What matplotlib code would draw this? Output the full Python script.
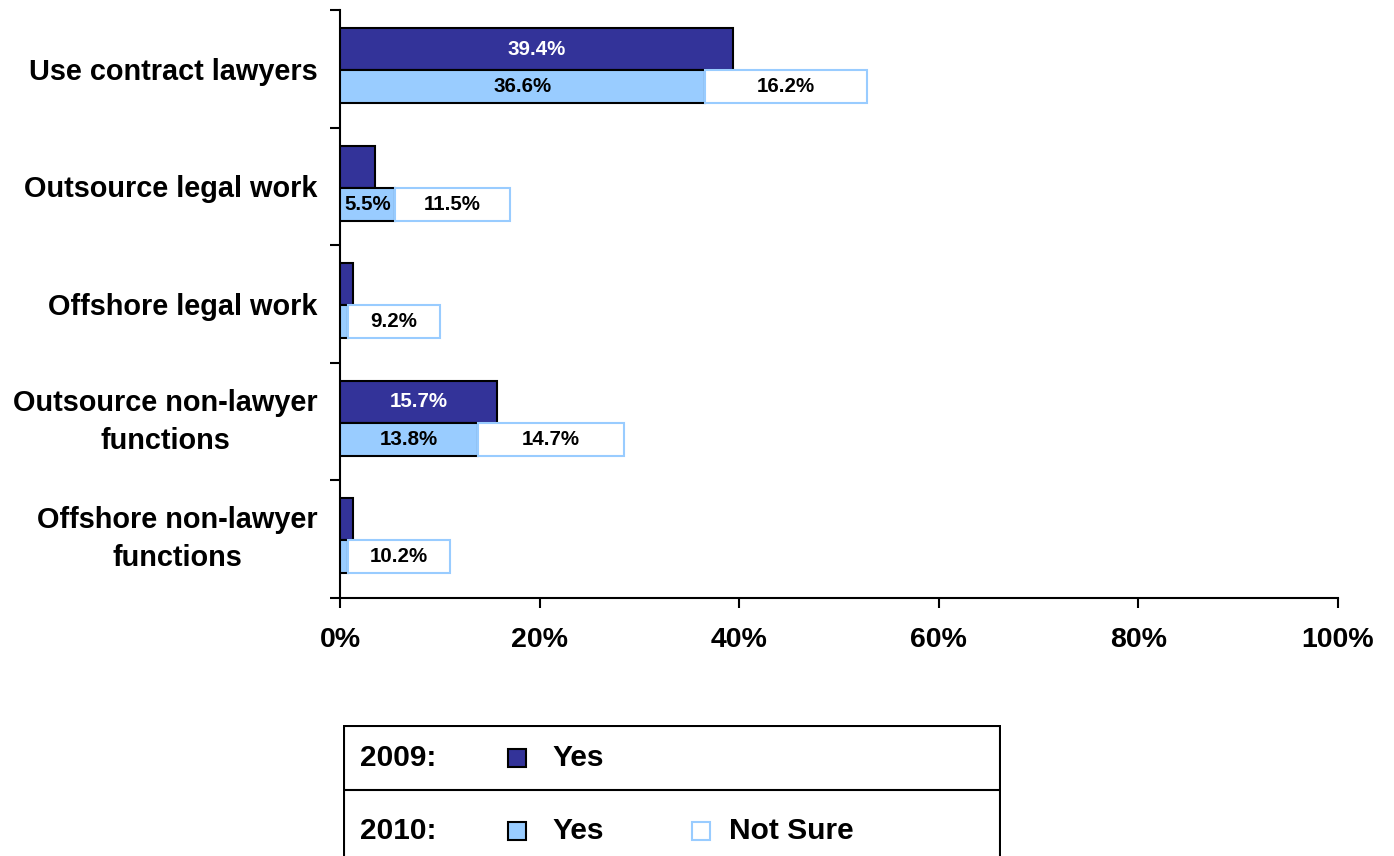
import matplotlib
matplotlib.use("Agg")
import matplotlib.pyplot as plt
from matplotlib.patches import Rectangle
from matplotlib.lines import Line2D
import numpy as np

plt.rcParams['font.family'] = ['Liberation Sans', 'DejaVu Sans']
plt.rcParams['font.weight'] = 'bold'

categories = ["Use contract lawyers", "Outsource legal work", "Offshore legal work",
              "Outsource non-lawyer\nfunctions", "Offshore non-lawyer\nfunctions"]
yes_2009 = [39.4, 3.5, 1.3, 15.7, 1.3]
yes_2010 = [36.6, 5.5, 0.8, 13.8, 0.8]
notsure_2010 = [16.2, 11.5, 9.2, 14.7, 10.2]
show_2009 = [True, False, False, True, False]
show_2010 = [True, True, False, True, False]
xticks = [0, 20, 40, 60, 80, 100]
xticklabels = ["0%", "20%", "40%", "60%", "80%", "100%"]

navy = "#333399"
light = "#99CCFF"

fig = plt.figure(figsize=(13.94, 8.56), dpi=100)
ax = fig.add_axes([340/1394, 1-598/856, 998/1394, 588/856])

y = np.arange(len(categories))
h09, c09 = 0.357, -0.168
h10, c10 = 0.28, 0.15

ax.barh(y + c09, yes_2009, height=h09, color=navy, edgecolor="black", linewidth=1.5, zorder=3)
ax.barh(y + c10, yes_2010, height=h10, color=light, edgecolor="black", linewidth=1.5, zorder=3)
ax.barh(y + c10, notsure_2010, left=yes_2010, height=h10, color="white", edgecolor=light,
        linewidth=1.5, zorder=3)

for i in range(len(categories)):
    if show_2009[i]:
        ax.text(yes_2009[i] / 2, y[i] + c09, f"{yes_2009[i]:.1f}%", ha="center", va="center",
                color="white", fontsize=14.8, fontweight="bold", zorder=5)
    if show_2010[i]:
        ax.text(yes_2010[i] / 2, y[i] + c10, f"{yes_2010[i]:.1f}%", ha="center", va="center",
                color="black", fontsize=14.8, fontweight="bold", zorder=5)
    ax.text(yes_2010[i] + notsure_2010[i] / 2, y[i] + c10, f"{notsure_2010[i]:.1f}%",
            ha="center", va="center", color="black", fontsize=14.8, fontweight="bold", zorder=5)

ax.set_xlim(0, 100)
ax.set_ylim(len(categories) - 0.5, -0.5)
ax.set_xticks(xticks)
ax.set_xticklabels(xticklabels, fontsize=20.5, fontweight="bold")
ax.set_yticks(y)
ax.set_yticklabels(categories, fontsize=20.8, fontweight="bold", multialignment="center",
                   linespacing=1.45)
for lab in ax.get_yticklabels():
    if "\n" in lab.get_text():
        lab.set_verticalalignment("center")
ax.set_yticks(np.arange(-0.5, len(categories), 1.0), minor=True)
ax.tick_params(axis="y", which="major", length=0, pad=16)
ax.tick_params(axis="y", which="minor", length=7, width=1.5, direction="out")
ax.tick_params(axis="x", which="major", length=7, width=1.5, direction="out", pad=14)
for s in ["top", "right"]:
    ax.spines[s].set_visible(False)
for s in ["left", "bottom"]:
    ax.spines[s].set_linewidth(1.5)

# Legend box (manual)
lax = fig.add_axes([343/1394, 0, (1001-343)/1394, (856-725)/856])
lax.set_xlim(343, 1001)
lax.set_ylim(856, 725)
lax.axis("off")
lw = 1.5
lax.add_line(Line2D([343, 1001], [726, 726], color="black", lw=lw))
lax.add_line(Line2D([344, 344], [726, 856], color="black", lw=lw))
lax.add_line(Line2D([1000, 1000], [726, 856], color="black", lw=lw))
lax.add_line(Line2D([343, 1001], [790, 790], color="black", lw=lw))
fs = 21.5
lax.text(360, 758, "2009:", fontsize=fs, fontweight="bold", va="center", ha="left")
lax.text(360, 831, "2010:", fontsize=fs, fontweight="bold", va="center", ha="left")
lax.add_patch(Rectangle((508, 749), 18, 18, facecolor=navy, edgecolor="black", lw=1.5))
lax.text(552, 758, "Yes", fontsize=fs, fontweight="bold", va="center", ha="left")
lax.add_patch(Rectangle((508, 822), 18, 18, facecolor=light, edgecolor="black", lw=1.5))
lax.text(552, 831, "Yes", fontsize=fs, fontweight="bold", va="center", ha="left")
lax.add_patch(Rectangle((692, 822), 18, 18, facecolor="white", edgecolor=light, lw=1.5))
lax.text(729, 831, "Not Sure", fontsize=fs, fontweight="bold", va="center", ha="left")

fig.savefig("out.png", dpi=100)
